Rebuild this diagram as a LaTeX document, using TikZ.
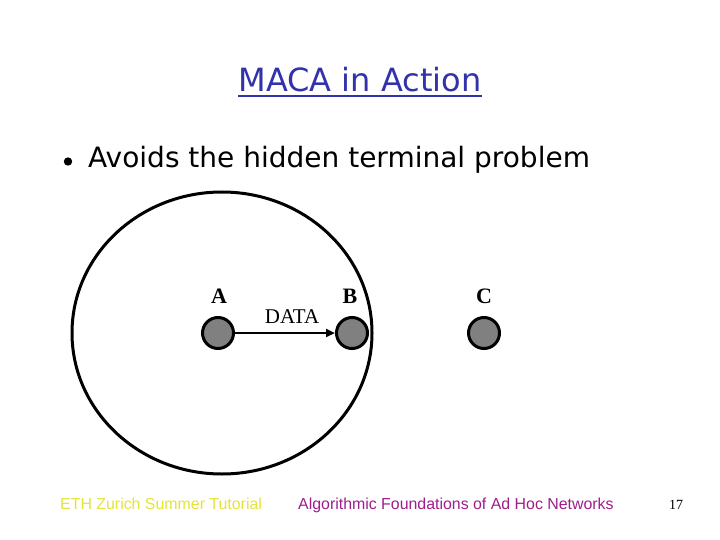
\documentclass[tikz,border=0pt]{standalone}
\usepackage{fontspec}
\setmainfont{Liberation Serif}
\newfontfamily\verd{DejaVu Sans}
\newfontfamily\arial{Liberation Sans}
\usetikzlibrary{arrows.meta}
\definecolor{titleblue}{RGB}{50,50,170}
\definecolor{footyellow}{RGB}{228,228,60}
\definecolor{footpurple}{RGB}{160,30,140}
\definecolor{nodegray}{RGB}{128,128,128}
\tikzset{
  station/.style={circle,draw=black,line width=3pt,fill=nodegray,minimum size=31pt,inner sep=0pt},
  stlabel/.style={font=\fontsize{22}{22}\selectfont\bfseries,inner sep=0pt,anchor=base},
  foot/.style={font=\arial\fontsize{15.9}{16}\selectfont,inner sep=0pt,anchor=base west},
}
\begin{document}
\begin{tikzpicture}[x=1pt,y=-1pt]
\useasboundingbox[fill=white] (0,0) rectangle (720,540);
% title
\node[font=\verd\fontsize{32}{32}\selectfont,text=titleblue,inner sep=0pt,anchor=base] (title) at (360,92) {MACA in Action};
\draw[titleblue,line width=1.4pt] ([yshift=-4pt]title.base west) -- ([yshift=-4pt]title.base east);
% bullet
\node[font=\verd\fontsize{28}{28}\selectfont,inner sep=0pt,anchor=base west] (bullet) at (88,168) {Avoids the hidden terminal problem};
\fill (68,161.5) circle (4.2);
% range circle
\draw[line width=3pt] (222,333) ellipse (150 and 141);
% stations
\node[station] (A) at (218,333) {};
\node[station] (B) at (352,333) {};
\node[station] (C) at (484,333) {};
\node[stlabel] (la) at (219,303) {A};
\node[stlabel] (lb) at (350,303) {B};
\node[stlabel] (lc) at (484,303) {C};
\node[font=\fontsize{21}{21}\selectfont,inner sep=0pt,anchor=base] (data) at (292,323) {DATA};
\draw[line width=2.6pt,-{Triangle[length=9pt,width=8pt]}] (A) -- (B);
% footer
\node[foot,text=footyellow] (f1) at (60,509) {ETH Zurich Summer Tutorial};
\node[foot,text=footpurple] (f2) at (298,509) {Algorithmic Foundations of Ad Hoc Networks};
\node[font=\fontsize{14}{14}\selectfont,inner sep=0pt,anchor=base] (num) at (676,509) {17};
\end{tikzpicture}
\end{document}
